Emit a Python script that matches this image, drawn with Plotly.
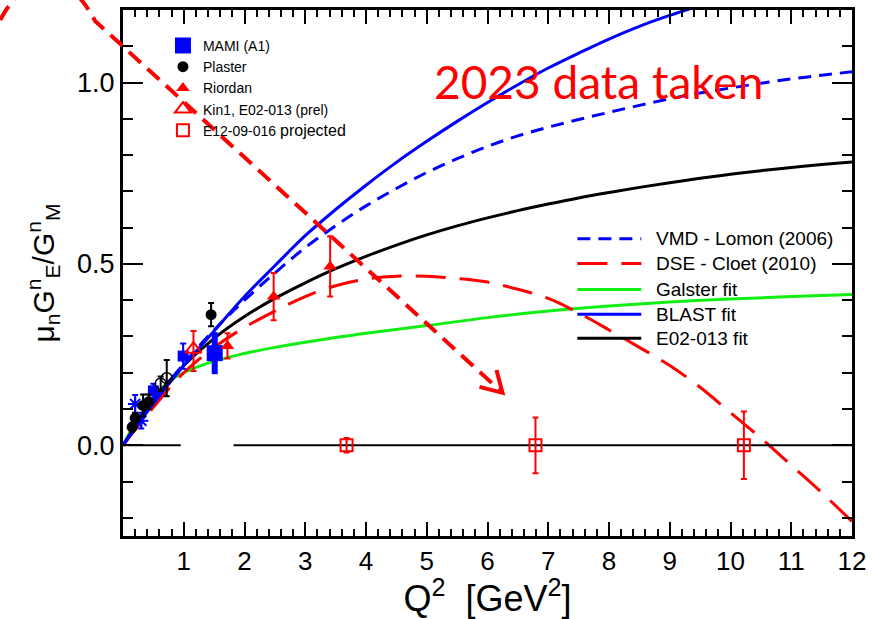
import plotly.graph_objects as go

# ---------------- data ----------------
# Theory / fit curves: mu_n G_E^n / G_M^n vs Q^2 [GeV^2]
blast_q = [0, 0.5, 1, 1.5, 2, 2.5, 3, 3.5, 4, 4.5, 5, 5.5, 6, 6.5, 7, 7.5, 8, 8.5, 9, 9.5]
blast_r = [0, 0.115, 0.22, 0.315, 0.41, 0.495, 0.578, 0.65, 0.717, 0.78, 0.838, 0.893, 0.945, 0.994, 1.04, 1.081, 1.12, 1.155, 1.185, 1.212]

vmd_q = [0, 0.5, 1, 1.5, 2, 2.5, 3, 3.5, 4, 4.5, 5, 5.5, 6, 6.5, 7, 7.5, 8, 8.5, 9, 9.5, 10, 10.5, 11, 11.5, 12]
vmd_r = [0, 0.12, 0.225, 0.318, 0.4, 0.475, 0.545, 0.605, 0.66, 0.708, 0.752, 0.79, 0.824, 0.853, 0.877, 0.898, 0.918, 0.937, 0.955, 0.971, 0.985, 0.998, 1.01, 1.02, 1.03]

e02_q = [0, 0.5, 1, 1.5, 2, 2.5, 3, 3.5, 4, 4.5, 5, 5.5, 6, 6.5, 7, 7.5, 8, 8.5, 9, 9.5, 10, 10.5, 11, 11.5, 12]
e02_r = [0, 0.125, 0.22, 0.295, 0.355, 0.405, 0.448, 0.487, 0.521, 0.552, 0.58, 0.605, 0.627, 0.647, 0.665, 0.682, 0.697, 0.711, 0.724, 0.736, 0.747, 0.757, 0.766, 0.774, 0.781]

galster_q = [0, 0.25, 0.5, 0.75, 1, 1.5, 2, 2.5, 3, 3.5, 4, 5, 6, 7, 8, 9, 10, 11, 12]
galster_r = [0, 0.075, 0.13, 0.175, 0.2, 0.232, 0.253, 0.27, 0.284, 0.297, 0.309, 0.33, 0.352, 0.37, 0.384, 0.395, 0.403, 0.41, 0.416]

dse_q = [0, 0.5, 1, 1.5, 2, 2.5, 3, 3.5, 4, 4.5, 5, 5.5, 6, 6.5, 7, 7.5, 8, 8.5, 9, 9.5, 10, 10.5, 11, 11.5, 12]
dse_r = [0, 0.105, 0.2, 0.27, 0.325, 0.37, 0.41, 0.44, 0.458, 0.466, 0.466, 0.46, 0.45, 0.43, 0.405, 0.365, 0.318, 0.27, 0.22, 0.16, 0.09, 0.02, -0.055, -0.13, -0.21]

zero_q = [0, 0.95, None, 1.82, 12]
zero_r = [0, 0, None, 0, 0]

# Data points
mami_big_q = [1.51]; mami_big_r = [0.254]; mami_big_e = [0.058]
mami_q = [0.5, 0.99]; mami_r = [0.15, 0.246]; mami_e = [0.02, 0.035]
star_q = [0.2, 0.3]; star_r = [0.114, 0.068]; star_e = [0.025, 0.022]
plaster_q = [0.15, 0.2, 0.33, 0.42, 1.45]
plaster_r = [0.05, 0.075, 0.11, 0.12, 0.36]
plaster_e = [0.012, 0.015, 0.03, 0.02, 0.032]
other_q = [0.62, 0.72]; other_r = [0.17, 0.185]; other_e = [0.02, 0.05]
riordan_q = [1.72, 2.48, 3.41]
riordan_r = [0.274, 0.41, 0.493]
riordan_e = [0.035, 0.065, 0.083]
kin1_q = [1.16]; kin1_r = [0.265]; kin1_ep = [0.05]; kin1_em = [0.06]
proj_q = [3.68, 6.79, 10.22]
proj_r = [0, 0, 0]
proj_e = [0.02, 0.077, 0.093]

x_ticks = list(range(1, 13))
y_ticks = [0, 0.5, 1.0]
y_ticktext = ["0.0", "0.5", "1.0"]

line_legend = [
    ("VMD - Lomon (2006)", "#0000ff", "13px,8px"),
    ("DSE - Cloet (2010)", "#ff0000", "30px,14px"),
    ("Galster fit", "#11ee11", "solid"),
    ("BLAST fit", "#0000ff", "solid"),
    ("E02-013 fit", "black", "solid"),
]

# ---------------- layout helpers ----------------
W, H = 873, 619
ML, MR, MT, MB = 123, 20, 7, 83
PW, PH = W - ML - MR, H - MT - MB


def fx(p):
    return (p - ML) / PW


def fy(p):
    return (H - MB - p) / PH


BLUE, RED, GREEN = "#0000ff", "#ff0000", "#11ee11"
FONT = "Liberation Sans, Arial, sans-serif"

fig = go.Figure()

# curves
fig.add_trace(go.Scatter(x=galster_q, y=galster_r, mode="lines", line=dict(color=GREEN, width=3, shape="spline"), showlegend=False))
fig.add_trace(go.Scatter(x=e02_q, y=e02_r, mode="lines", line=dict(color="black", width=3, shape="spline"), showlegend=False))
fig.add_trace(go.Scatter(x=dse_q, y=dse_r, mode="lines", line=dict(color=RED, width=3, shape="spline", dash="30px,14px"), showlegend=False))
fig.add_trace(go.Scatter(x=vmd_q, y=vmd_r, mode="lines", line=dict(color=BLUE, width=3, shape="spline", dash="13px,8px"), showlegend=False))
fig.add_trace(go.Scatter(x=blast_q, y=blast_r, mode="lines", line=dict(color=BLUE, width=3, shape="spline"), showlegend=False))
fig.add_trace(go.Scatter(x=zero_q, y=zero_r, mode="lines", line=dict(color="black", width=2), showlegend=False))

# data points
fig.add_trace(go.Scatter(x=mami_big_q, y=mami_big_r, mode="markers", name="MAMI (A1)", legendgroup="mami",
                         marker=dict(symbol="square", size=16, color=BLUE),
                         error_y=dict(type="data", array=mami_big_e, color=BLUE, thickness=6, width=0)))
fig.add_trace(go.Scatter(x=mami_q, y=mami_r, mode="markers", name="MAMI (A1)", legendgroup="mami", showlegend=False,
                         marker=dict(symbol="square", size=11, color=BLUE),
                         error_y=dict(type="data", array=mami_e, color=BLUE, thickness=2, width=3)))
fig.add_trace(go.Scatter(x=star_q, y=star_r, mode="markers", showlegend=False,
                         marker=dict(symbol="asterisk-open", size=12, color=BLUE, line=dict(color=BLUE, width=2)),
                         error_y=dict(type="data", array=star_e, color=BLUE, thickness=2, width=3)))
fig.add_trace(go.Scatter(x=plaster_q, y=plaster_r, mode="markers", name="Plaster",
                         marker=dict(symbol="circle", size=11, color="black"),
                         error_y=dict(type="data", array=plaster_e, color="black", thickness=2, width=3)))
fig.add_trace(go.Scatter(x=other_q, y=other_r, mode="markers", showlegend=False,
                         marker=dict(symbol="circle-open", size=11, color="black", line=dict(width=1.5)),
                         error_y=dict(type="data", array=other_e, color="black", thickness=2, width=3)))
fig.add_trace(go.Scatter(x=riordan_q, y=riordan_r, mode="markers", name="Riordan",
                         marker=dict(symbol="triangle-up", size=12, color=RED),
                         error_y=dict(type="data", array=riordan_e, color=RED, thickness=2, width=3)))
fig.add_trace(go.Scatter(x=kin1_q, y=kin1_r, mode="markers", name="Kin1, E02-013 (prel)",
                         marker=dict(symbol="triangle-up-open", size=14, color=RED, line=dict(color=RED, width=2)),
                         error_y=dict(type="data", array=kin1_ep, arrayminus=kin1_em, color=RED, thickness=2, width=3)))
fig.add_trace(go.Scatter(x=proj_q, y=proj_r, mode="markers",
                         name="E12-09-016 <span style='font-size:16px'>projected</span>",
                         marker=dict(symbol="square-open", size=12, color=RED, line=dict(color=RED, width=2)),
                         error_y=dict(type="data", array=proj_e, color=RED, thickness=2, width=3)))

shapes = []
annotations = []

# manual line legend (right)
row_y = [237, 262, 288, 313, 337]
for (label, color, dash), yy in zip(line_legend, row_y):
    shapes.append(dict(type="line", xref="paper", yref="paper", x0=fx(578), x1=fx(642), y0=fy(yy), y1=fy(yy),
                       line=dict(color=color, width=3, dash=dash)))
    annotations.append(dict(xref="paper", yref="paper", x=fx(655), y=fy(yy), text=label, showarrow=False,
                            xanchor="left", yanchor="middle", font=dict(family=FONT, size=19, color="black")))

# "2023 data taken" overlay text
annotations.append(dict(xref="paper", yref="paper", x=fx(432), y=fy(79), text="2023 data taken", showarrow=False,
                        xanchor="left", yanchor="middle", font=dict(family="Lato, Carlito, sans-serif", size=46, color=RED)))

# red dashed curved arrow (overlay)
def P(a, b):
    return f"{fx(a):.5f},{fy(b):.5f}"

arrow_path = f"M {P(0, 17)} C {P(25, -30)} {P(65, -40)} {P(95, 18)} L {P(502, 391)}"
shapes.append(dict(type="path", xref="paper", yref="paper", path=arrow_path,
                   line=dict(color=RED, width=4, dash="16px,9px")))
head_path = f"M {P(480, 386)} L {P(503, 392)} L {P(497, 369)}"
shapes.append(dict(type="path", xref="paper", yref="paper", path=head_path,
                   line=dict(color=RED, width=4)))

fig.update_layout(
    width=W, height=H,
    margin=dict(l=ML, r=MR, t=MT, b=MB),
    paper_bgcolor="white", plot_bgcolor="white",
    font=dict(family=FONT, color="black"),
    shapes=shapes, annotations=annotations,
    legend=dict(x=fx(163), y=fy(27), xanchor="left", yanchor="top", bgcolor="rgba(0,0,0,0)",
                font=dict(family=FONT, size=14), itemsizing="trace", tracegroupgap=0),
    xaxis=dict(range=[0, 12], tickmode="array", tickvals=x_ticks, ticks="inside", ticklen=14, tickwidth=2,
               tickcolor="black", showline=True, linewidth=3, linecolor="black", mirror="ticks",
               showgrid=False, zeroline=False, tickfont=dict(size=26, family=FONT),
               minor=dict(tickmode="linear", tick0=0, dtick=0.2, ticks="inside", ticklen=7, tickwidth=1.5, tickcolor="black", showgrid=False),
               title=dict(text="Q<sup>2</sup>  [GeV<sup>2</sup>]", font=dict(size=36, family=FONT), standoff=2)),
    yaxis=dict(range=[-0.25, 1.2], tickmode="array", tickvals=y_ticks, ticktext=y_ticktext, ticks="inside", ticklen=20, tickwidth=2,
               tickcolor="black", showline=True, linewidth=3, linecolor="black", mirror="ticks",
               showgrid=False, zeroline=False, tickfont=dict(size=27, family=FONT),
               minor=dict(tickmode="linear", tick0=0, dtick=0.1, ticks="inside", ticklen=10, tickwidth=1.5, tickcolor="black", showgrid=False),
               title=dict(text="μ<sub>n</sub>G<sup>n</sup><sub>E</sub>/G<sup>n</sup><sub>M</sub>", font=dict(size=30, family=FONT), standoff=14)),
)

fig.write_html("out.html", config={"displayModeBar": False},
               post_script="document.body.style.margin='0';document.body.style.padding='0';")
